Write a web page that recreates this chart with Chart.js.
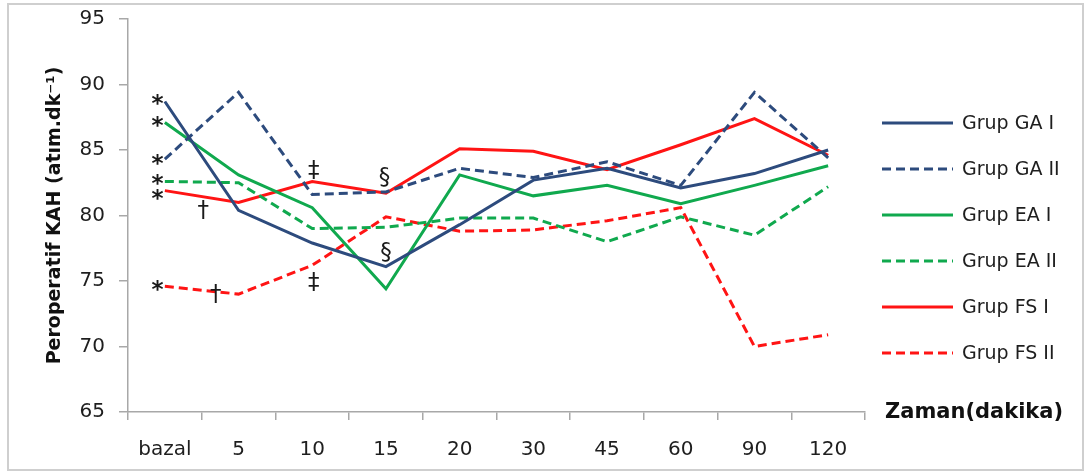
<!DOCTYPE html>
<html>
<head>
<meta charset="utf-8">
<script src="https://cdn.jsdelivr.net/npm/chart.js@4/dist/chart.umd.min.js"></script>
<style>
  html, body { margin: 0; padding: 0; background: #ffffff; }
  #wrap { position: relative; width: 1088px; height: 473px; overflow: hidden; }
  #c { display: block; }
  #frame { position: absolute; left: 7px; top: 3px; width: 1073px; height: 464px;
           border: 2px solid #cfcfcf; pointer-events: none; }
</style>
</head>
<body>
<div id="wrap">
  <canvas id="c" width="1088" height="473"></canvas>
  <div id="frame"></div>
</div>
<script>
// ---- data ----
const categories = ['bazal', '5', '10', '15', '20', '30', '45', '60', '90', '120'];
const seriesNames = ['Grup GA I', 'Grup GA II', 'Grup EA I', 'Grup EA II', 'Grup FS I', 'Grup FS II'];
const gaI  = [88.7, 80.4, 77.9, 76.1, 79.3, 82.7, 83.6, 82.1, 83.2, 85.0];
const gaII = [84.3, 89.4, 81.6, 81.8, 83.6, 82.9, 84.1, 82.3, 89.4, 84.4];
const eaI  = [87.1, 83.1, 80.6, 74.4, 83.1, 81.5, 82.3, 80.9, 82.3, 83.8];
const eaII = [82.6, 82.5, 79.0, 79.1, 79.8, 79.8, 78.0, 79.9, 78.5, 82.2];
const fsI  = [81.9, 81.0, 82.6, 81.7, 85.1, 84.9, 83.5, 85.4, 87.4, 84.6];
const fsII = [74.6, 74.0, 76.2, 79.9, 78.8, 78.9, 79.6, 80.6, 70.0, 70.9];
const yTicks = [65, 70, 75, 80, 85, 90, 95];

// significance marks: symbol, category position (index), value
const markSymbols = ['*', '*', '*', '*', '*', '*', '\u2020', '\u2020', '\u2021', '\u2021', '\u00A7', '\u00A7'];
const markIndex   = [-0.1, -0.1, -0.1, -0.1, -0.1, -0.1, 0.52, 0.69, 2.02, 2.02, 2.98, 3.0];
const markValue   = [88.8, 87.1, 84.2, 82.7, 81.6, 74.6, 80.4, 74.0, 83.5, 74.9, 82.9, 77.2];

const xTitle = 'Zaman(dakika)';
const yTitle = 'Peroperatif KAH (at\u0131m.dk\u207B\u00B9)';

// ---- styles ----
const NAVY = '#2d4b7d', GREEN = '#10a94e', RED = '#ff1414';
const FONT = "'DejaVu Sans', sans-serif";
const AXIS = '#a8a8a8';
const DASH = [9, 5];

const seriesValues = [gaI, gaII, eaI, eaII, fsI, fsII];
const seriesColors = [NAVY, NAVY, GREEN, GREEN, RED, RED];
const seriesDashed = [false, true, false, true, false, true];

const datasets = seriesNames.map((name, i) => ({
  label: name,
  data: seriesValues[i],
  borderColor: seriesColors[i],
  backgroundColor: seriesColors[i],
  borderWidth: 3,
  borderDash: seriesDashed[i] ? DASH : [],
  pointRadius: 0,
  pointHoverRadius: 0,
  tension: 0,
  fill: false
}));

const marksPlugin = {
  id: 'marks',
  afterDatasetsDraw(chart) {
    const { ctx, scales: { x, y } } = chart;
    ctx.save();
    ctx.fillStyle = '#1a1a1a';
    ctx.textAlign = 'center';
    ctx.textBaseline = 'middle';
    markSymbols.forEach((s, i) => {
      const px = x.getPixelForValue(markIndex[i]);
      const py = y.getPixelForValue(markValue[i]);
      if (s === '*') {
        ctx.font = 'bold 23px ' + FONT;
        ctx.fillText(s, px, py + 5);
      } else {
        ctx.font = '23px ' + FONT;
        ctx.fillText(s, px, py + 1);
      }
    });
    ctx.restore();
  }
};

const legendPlugin = {
  id: 'sideLegend',
  afterDraw(chart) {
    const { ctx, chartArea } = chart;
    ctx.save();
    const x0 = chartArea.right + 17;
    chart.data.datasets.forEach((ds, i) => {
      const yy = 123 + i * 46;
      ctx.strokeStyle = ds.borderColor;
      ctx.lineWidth = 3;
      ctx.setLineDash(ds.borderDash || []);
      ctx.beginPath();
      ctx.moveTo(x0, yy);
      ctx.lineTo(x0 + 71, yy);
      ctx.stroke();
      ctx.setLineDash([]);
      ctx.fillStyle = '#1e1e1e';
      ctx.font = '19px ' + FONT;
      ctx.textAlign = 'left';
      ctx.textBaseline = 'middle';
      ctx.fillText(ds.label, x0 + 80, yy + 1);
    });
    ctx.font = 'bold 21px ' + FONT;
    ctx.fillStyle = '#111';
    ctx.textAlign = 'left';
    ctx.textBaseline = 'middle';
    ctx.fillText(xTitle, chartArea.right + 20, chartArea.bottom + 1);
    ctx.restore();
  }
};

const PAD_L = 44, PAD_B = 4;

new Chart(document.getElementById('c'), {
  type: 'line',
  data: { labels: categories, datasets },
  options: {
    responsive: false,
    animation: false,
    devicePixelRatio: 1,
    layout: { padding: { left: PAD_L, right: 223, top: 19, bottom: PAD_B } },
    plugins: { legend: { display: false }, tooltip: { enabled: false } },
    scales: {
      x: {
        type: 'category',
        offset: true,
        grid: { display: true, drawOnChartArea: false, drawTicks: true, tickLength: 8, offset: true, color: AXIS, lineWidth: 1.5 },
        border: { display: true, color: AXIS, width: 1.5 },
        ticks: { color: '#1e1e1e', font: { family: FONT, size: 20 }, padding: 18, maxRotation: 0, autoSkip: false },
        afterFit(s) { s.height = 473 - 412 - PAD_B; s.paddingLeft = 0; s.paddingRight = 0; }
      },
      y: {
        min: 65, max: 95,
        afterBuildTicks(s) { s.ticks = yTicks.map(v => ({ value: v })); },
        grid: { display: true, drawOnChartArea: false, drawTicks: true, tickLength: 9, color: AXIS, lineWidth: 1.5 },
        border: { display: true, color: AXIS, width: 1.5 },
        ticks: { color: '#1e1e1e', font: { family: FONT, size: 20 }, padding: 14 },
        title: { display: true, text: yTitle, color: '#111', font: { family: FONT, size: 19, weight: 'bold' }, padding: 0 },
        afterFit(s) { s.width = 128 - PAD_L; s.paddingTop = 0; s.paddingBottom = 0; }
      }
    }
  },
  plugins: [marksPlugin, legendPlugin]
});
</script>
</body>
</html>
